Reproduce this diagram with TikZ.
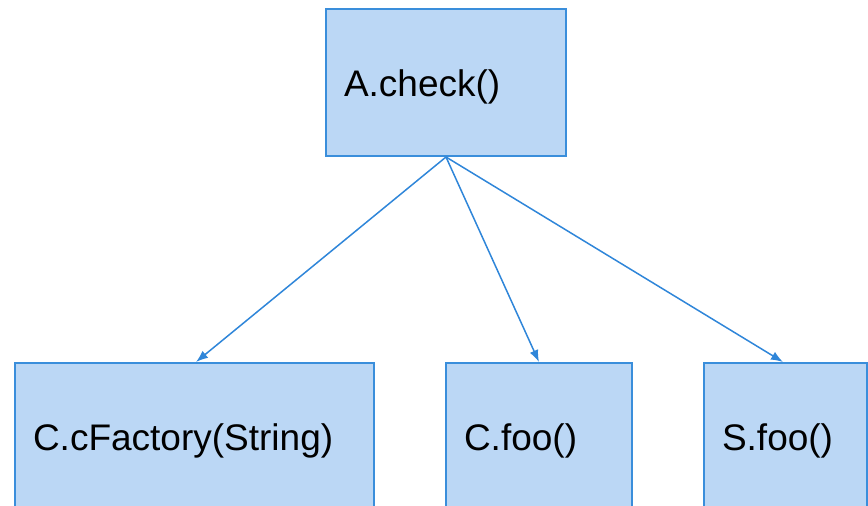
\documentclass[tikz,border=0pt]{standalone}
\usepackage{fontspec}
\setmainfont{Liberation Sans}
\usetikzlibrary{arrows.meta}
\definecolor{boxfill}{HTML}{BBD7F5}
\definecolor{boxline}{HTML}{3A8EDB}
\definecolor{arrline}{HTML}{2F86D9}
\tikzset{
  fnbox/.style={draw=boxline, fill=boxfill, line width=2pt, rectangle,
    anchor=north west, inner xsep=18pt, inner ysep=0pt, align=left,
    text height=33pt, text depth=6pt,
    font=\fontsize{37}{44}\selectfont},
  callarrow/.style={draw=arrline, line width=1.5pt, -{Latex[length=12pt,width=9pt]}}
}
\begin{document}
\begin{tikzpicture}[x=1pt,y=-1pt]
\useasboundingbox (0,0) rectangle (868,506);
\clip (0,0) rectangle (868,506);
\node[fnbox, text width=204pt, minimum height=147pt] (a) at (325,8) {A.check()};
\node[fnbox, text width=323pt, minimum height=147pt] (cf) at (14,362) {C.cFactory(String)};
\node[fnbox, text width=150pt, minimum height=147pt] (cfoo) at (445,362) {C.foo()};
\node[fnbox, text width=127pt, minimum height=147pt] (sfoo) at (703,362) {S.foo()};
\draw[callarrow] (a.south) -- ([xshift=1.5pt]cf.north);
\draw[callarrow] (a.south) -- (cfoo.north);
\draw[callarrow] (a.south) -- ([xshift=-2.5pt]sfoo.north);
\end{tikzpicture}
\end{document}
